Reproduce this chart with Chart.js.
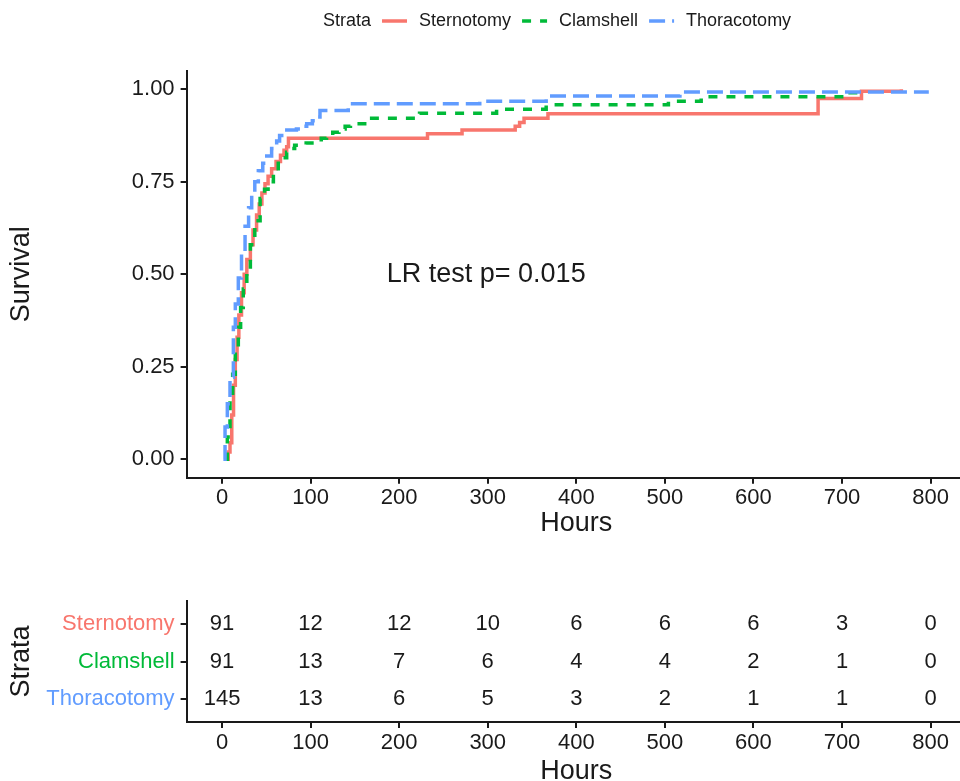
<!DOCTYPE html>
<html>
<head>
<meta charset="utf-8">
<script src="https://cdn.jsdelivr.net/npm/chart.js@4"></script>
<style>
html, body { margin: 0; padding: 0; background: #fff; overflow: hidden; width: 960px; height: 781px; }
#wrap { position: relative; width: 960px; height: 781px; overflow: hidden; }
#km { position: absolute; left: 0; top: 0; }
#risk { position: absolute; left: 0; top: 580px; }
</style>
</head>
<body>
<div id="wrap">
  <canvas id="km" width="970" height="560"></canvas>
  <canvas id="risk" width="970" height="220"></canvas>
</div>
<script>
// --- data ---
const strata = ['Sternotomy', 'Clamshell', 'Thoracotomy'];
const xTicks = [0, 100, 200, 300, 400, 500, 600, 700, 800];
const yTicks = [0, 0.25, 0.5, 0.75, 1];

const sternTime = [5, 7, 9, 11, 13, 15, 17, 19, 22, 25, 28, 32, 35, 39, 42, 45, 48.5, 52, 56, 61, 66, 70, 73, 75, 232, 271, 331, 336, 341, 368, 673, 722, 767];
const sternSurv = [0, 0.02, 0.045, 0.12, 0.2, 0.27, 0.33, 0.39, 0.45, 0.5, 0.54, 0.58, 0.62, 0.66, 0.69, 0.72, 0.745, 0.765, 0.785, 0.805, 0.822, 0.835, 0.845, 0.868, 0.88, 0.89, 0.9, 0.91, 0.922, 0.934, 0.975, 0.995, 1.0];

const clamTime = [3.4, 6, 9, 12, 15, 18.4, 21, 24, 28, 32, 37, 43, 48, 52, 58, 63.5, 68, 73, 78, 82, 95, 107, 112, 118, 125, 132, 139, 145, 165, 223, 310, 366, 504, 541, 705, 720];
const clamSurv = [0, 0.06, 0.16, 0.23, 0.29, 0.357, 0.41, 0.46, 0.52, 0.58, 0.645, 0.705, 0.73, 0.75, 0.775, 0.8, 0.815, 0.83, 0.84, 0.849, 0.855, 0.858, 0.868, 0.876, 0.884, 0.893, 0.9, 0.907, 0.922, 0.935, 0.946, 0.958, 0.968, 0.98, 0.991, 0.993];

const thorTime = [1.5, 3.4, 6, 9, 12.8, 15, 18.4, 22, 26, 30, 33.5, 37, 41, 46, 50.5, 56, 61.7, 65, 67.4, 84, 90, 95.6, 102, 107, 110.6, 142.5, 291, 366, 517, 798];
const thorSurv = [0, 0.087, 0.15, 0.222, 0.357, 0.42, 0.49, 0.56, 0.63, 0.68, 0.716, 0.75, 0.78, 0.8, 0.82, 0.84, 0.86, 0.875, 0.89, 0.893, 0.9, 0.907, 0.915, 0.925, 0.943, 0.961, 0.968, 0.982, 0.993, 0.993];

// numbers at risk
const riskTimes = [0, 100, 200, 300, 400, 500, 600, 700, 800];
const riskStern = [91, 12, 12, 10, 6, 6, 6, 3, 0];
const riskClam = [91, 13, 7, 6, 4, 4, 2, 1, 0];
const riskThor = [145, 13, 6, 5, 3, 2, 1, 1, 0];

const colors = ['#F8766D', '#00BA38', '#619CFF'];
const dashes = [[], [9, 9], [16, 7]];
const FONT = '"Liberation Sans", Arial, Helvetica, sans-serif';
const INK = '#1a1a1a';

Chart.defaults.font.family = FONT;
Chart.defaults.color = INK;

const toPoints = (t, s) => t.map((v, i) => ({ x: v, y: s[i] }));

// --- legend at the top ---
const strataLegend = {
    id: 'strataLegend',
    afterDraw(chart) {
        const ctx = chart.ctx;
        ctx.save();
        ctx.font = '18px ' + FONT;
        ctx.textBaseline = 'middle';
        ctx.fillStyle = INK;
        const y = 21;
        let x = 323;
        ctx.fillText('Strata', x, y);
        x += ctx.measureText('Strata').width + 11;
        strata.forEach(name => {
            const ds = chart.data.datasets.find(d => d.label === name);
            ctx.save();
            ctx.strokeStyle = ds.borderColor;
            ctx.lineWidth = ds.borderWidth;
            ctx.setLineDash(ds.borderDash);
            ctx.beginPath();
            ctx.moveTo(x, y);
            ctx.lineTo(x + 25, y);
            ctx.stroke();
            ctx.restore();
            x += 25 + 12;
            ctx.fillText(name, x, y);
            x += ctx.measureText(name).width + 11;
        });
        ctx.restore();
    }
};

// --- "LR test" annotation ---
const lrText = {
    id: 'lrText',
    afterDatasetsDraw(chart) {
        const { ctx, scales } = chart;
        ctx.save();
        ctx.font = '27px ' + FONT;
        ctx.fillStyle = INK;
        ctx.textBaseline = 'middle';
        ctx.textAlign = 'left';
        ctx.fillText('LR test p= 0.015', scales.x.getPixelForValue(186), scales.y.getPixelForValue(0.5));
        ctx.restore();
    }
};

function axisStyle() {
    return {
        border: { display: true, color: INK, width: 2 },
        grid: { display: true, drawOnChartArea: false, drawTicks: true, tickLength: 6, color: INK, lineWidth: 2 }
    };
}

new Chart(document.getElementById('km'), {
    type: 'line',
    data: {
        datasets: [
            { label: 'Thoracotomy', data: toPoints(thorTime, thorSurv), borderColor: colors[2], borderDash: dashes[2], borderWidth: 3.5, order: 0 },
            { label: 'Clamshell', data: toPoints(clamTime, clamSurv), borderColor: colors[1], borderDash: dashes[1], borderWidth: 3.5, order: 1 },
            { label: 'Sternotomy', data: toPoints(sternTime, sternSurv), borderColor: colors[0], borderDash: dashes[0], borderWidth: 3.5, order: 2 }
        ]
    },
    options: {
        responsive: false,
        animation: false,
        layout: { padding: { top: 70.8, right: 4, left: 0, bottom: 0 } },
        elements: { point: { radius: 0 }, line: { stepped: true, tension: 0, fill: false } },
        plugins: { legend: { display: false }, tooltip: { enabled: false } },
        scales: {
            x: {
                type: 'linear', min: -40, max: 840,
                ...axisStyle(),
                afterBuildTicks: s => { s.ticks = xTicks.map(v => ({ value: v })); },
                afterFit: s => { s.height = 82.2; },
                ticks: { font: { size: 22 }, color: INK, padding: 1, maxRotation: 0 },
                title: { display: true, text: 'Hours', font: { size: 27 }, color: INK, padding: { top: 0, bottom: 19.8 } }
            },
            y: {
                type: 'linear', min: -0.05, max: 1.05,
                ...axisStyle(),
                afterBuildTicks: s => { s.ticks = yTicks.map(v => ({ value: v })); },
                afterFit: s => { s.width = 186.6; },
                ticks: { font: { size: 22 }, color: INK, padding: 6, callback: v => v.toFixed(2) },
                title: { display: true, text: 'Survival', font: { size: 27 }, color: INK, padding: { top: 5.5, bottom: 0 } }
            }
        }
    },
    plugins: [strataLegend, lrText]
});

// --- risk table ---
const riskRows = [riskStern, riskClam, riskThor];
const riskNumbers = {
    id: 'riskNumbers',
    afterDatasetsDraw(chart) {
        const { ctx, scales } = chart;
        ctx.save();
        ctx.font = '22px ' + FONT;
        ctx.fillStyle = INK;
        ctx.textAlign = 'center';
        ctx.textBaseline = 'middle';
        riskRows.forEach((row, i) => {
            row.forEach((n, j) => {
                ctx.fillText(String(n), scales.x.getPixelForValue(riskTimes[j]), scales.y.getPixelForValue(i + 1));
            });
        });
        ctx.restore();
    }
};

new Chart(document.getElementById('risk'), {
    type: 'line',
    data: { datasets: [] },
    options: {
        responsive: false,
        animation: false,
        layout: { padding: { top: 21, right: 4, left: 0, bottom: 0 } },
        plugins: { legend: { display: false }, tooltip: { enabled: false } },
        scales: {
            x: {
                type: 'linear', min: -40, max: 840,
                ...axisStyle(),
                afterBuildTicks: s => { s.ticks = xTicks.map(v => ({ value: v })); },
                afterFit: s => { s.height = 78; },
                ticks: { font: { size: 22 }, color: INK, padding: 2, maxRotation: 0 },
                title: { display: true, text: 'Hours', font: { size: 27 }, color: INK, padding: { top: 0, bottom: 11.8 } }
            },
            y: {
                type: 'linear', min: 0.4, max: 3.6, reverse: true,
                ...axisStyle(),
                afterBuildTicks: s => { s.ticks = [1, 2, 3].map(v => ({ value: v })); },
                afterFit: s => { s.width = 186.6; },
                ticks: {
                    font: { size: 22 }, padding: 6,
                    color: c => colors[(c.tick ? c.tick.value : c.index + 1) - 1],
                    callback: v => strata[v - 1]
                },
                title: { display: true, text: 'Strata', font: { size: 27 }, color: INK, padding: { top: 5.5, bottom: 0 } }
            }
        }
    },
    plugins: [riskNumbers]
});
</script>
</body>
</html>
